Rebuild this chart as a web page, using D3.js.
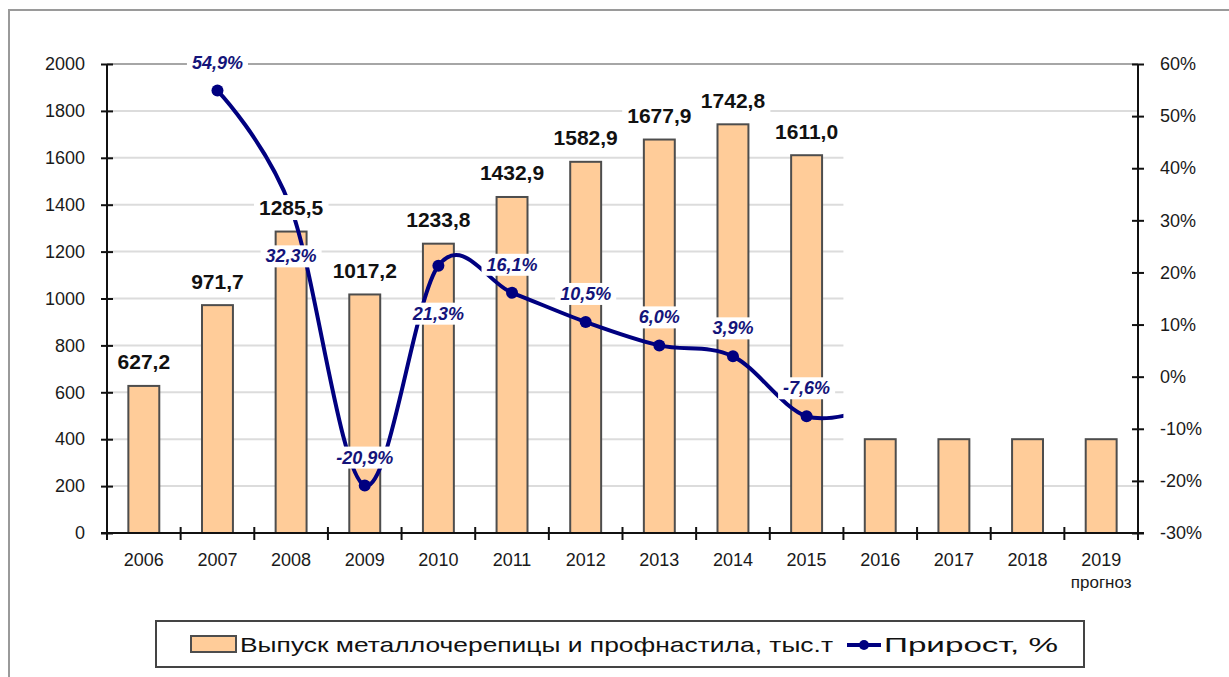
<!DOCTYPE html>
<html>

<head>
    <meta charset="utf-8" />
    <title>Выпуск металлочерепицы и профнастила</title>
    <script src="https://d3js.org/d3.v7.min.js"></script>
    <style>
        body {
            margin: 0;
            background: #fff;
        }

        svg text {
            font-family: "Liberation Sans", Arial, sans-serif;
        }
    </style>
</head>

<body>
    <div id="chart"></div>

    <script>
        // categories
        const years = ["2006", "2007", "2008", "2009", "2010", "2011", "2012",
            "2013", "2014", "2015", "2016", "2017", "2018", "2019"];

        // output, thousand tonnes (2016-2019 drawn as placeholders without labels)
        const output = [627.2, 971.7, 1285.5, 1017.2, 1233.8, 1432.9, 1582.9,
            1677.9, 1742.8, 1611.0, 400, 400, 400, 400];
        const outputLabelled = [true, true, true, true, true, true, true,
            true, true, true, false, false, false, false];

        // growth, % (2016 value is hidden, only the cut tail of the curve shows)
        const growthYears = ["2007", "2008", "2009", "2010", "2011", "2012",
            "2013", "2014", "2015", "2016"];
        const growth = [54.9, 32.3, -20.9, 21.3, 16.1, 10.5, 6.0, 3.9, -7.6, -5.5];
        const growthShown = 9; // points with dot and label

        // tick labels
        const leftTicks = [0, 200, 400, 600, 800, 1000, 1200, 1400, 1600, 1800, 2000];
        const rightTicks = [-30, -20, -10, 0, 10, 20, 30, 40, 50, 60];

        const W = 1229, H = 677;
        const plotL = 107, plotR = 1138, plotT = 64, plotB = 533;

        const svg = d3.select("#chart").append("svg")
            .attr("width", W)
            .attr("height", H);

        // outer frame (only top and left edges visible)
        svg.append("path")
            .attr("d", `M9,${H} V10 H${W}`)
            .attr("fill", "none")
            .attr("stroke", "#9a9a9a")
            .attr("stroke-width", 2);

        const x = d3.scaleBand()
            .domain(years)
            .range([plotL, plotR])
            .paddingInner(0.58)
            .paddingOuter(0.29);
        const yL = d3.scaleLinear().domain([0, 2000]).range([plotB, plotT]);
        const yR = d3.scaleLinear().domain([-30, 60]).range([plotB, plotT]);
        const cx = d => x(d) + x.bandwidth() / 2;

        // boundary between the real data and the forecast part
        const cutX = plotL + x.step() * years.indexOf("2016");

        // gridlines: the middle ones stop where the forecast starts
        svg.append("g").selectAll("line")
            .data(leftTicks.filter(v => v > 0))
            .enter()
            .append("line")
            .attr("x1", plotL)
            .attr("x2", v => (v >= 400 && v <= 1600) ? cutX : plotR)
            .attr("y1", v => yL(v))
            .attr("y2", v => yL(v))
            .attr("stroke", v => v === 2000 ? "#a6a6a6" : "#dcdcdc")
            .attr("stroke-width", 2);

        // bars
        svg.append("g").selectAll("rect")
            .data(years)
            .enter()
            .append("rect")
            .attr("x", d => x(d))
            .attr("y", (d, i) => yL(output[i]))
            .attr("width", x.bandwidth())
            .attr("height", (d, i) => plotB - yL(output[i]))
            .attr("fill", "#ffcc99")
            .attr("stroke", "#4d4d4d")
            .attr("stroke-width", 2);

        // axes
        const axisColor = "#111";
        const gLeft = svg.append("g")
            .attr("transform", `translate(${plotL},0)`)
            .call(d3.axisLeft(yL).tickValues(leftTicks).tickSize(6).tickPadding(16)
                .tickFormat(d3.format("d")));
        gLeft.selectAll(".tick line").attr("x1", 6).attr("stroke-width", 2);
        gLeft.select(".domain").attr("d", `M0,${plotT}V${plotB}`).attr("stroke-width", 2);

        const gRight = svg.append("g")
            .attr("transform", `translate(${plotR},0)`)
            .call(d3.axisRight(yR).tickValues(rightTicks).tickSize(6).tickPadding(16)
                .tickFormat(v => v + "%"));
        gRight.selectAll(".tick line").attr("x1", -6).attr("stroke-width", 2);
        gRight.select(".domain").attr("d", `M0,${plotT}V${plotB}`).attr("stroke-width", 2);

        [gLeft, gRight].forEach(g => {
            g.selectAll("path, line").attr("stroke", axisColor);
            g.selectAll("text")
                .attr("font-size", 18)
                .attr("fill", "#1a1a1a")
                .style("font-family", "'Liberation Sans', Arial, sans-serif");
        });

        // category axis
        const gBottom = svg.append("g");
        gBottom.append("line")
            .attr("x1", plotL - 6).attr("x2", plotR + 6)
            .attr("y1", plotB).attr("y2", plotB)
            .attr("stroke", axisColor).attr("stroke-width", 2);
        gBottom.selectAll(".ctick")
            .data(d3.range(years.length + 1))
            .enter()
            .append("line")
            .attr("x1", i => plotL + i * x.step())
            .attr("x2", i => plotL + i * x.step())
            .attr("y1", plotB - 6)
            .attr("y2", plotB + 7)
            .attr("stroke", axisColor)
            .attr("stroke-width", 2);
        gBottom.selectAll(".clabel")
            .data(years)
            .enter()
            .append("text")
            .attr("x", d => cx(d))
            .attr("y", plotB + 33)
            .attr("text-anchor", "middle")
            .attr("font-size", 18)
            .attr("fill", "#1a1a1a")
            .text(d => d);
        gBottom.append("text")
            .attr("x", cx("2019"))
            .attr("y", plotB + 55)
            .attr("text-anchor", "middle")
            .attr("font-size", 17)
            .attr("fill", "#1a1a1a")
            .text("прогноз");

        // growth line, clipped at the start of the forecast
        svg.append("clipPath").attr("id", "cut")
            .append("rect")
            .attr("x", 0).attr("y", 0)
            .attr("width", cutX).attr("height", H);

        const lineColor = "#000080";
        const line = d3.line()
            .x((d, i) => cx(growthYears[i]))
            .y(d => yR(d))
            .curve(d3.curveCardinal.tension(0));

        svg.append("path")
            .datum(growth)
            .attr("d", line)
            .attr("fill", "none")
            .attr("stroke", lineColor)
            .attr("stroke-width", 4)
            .attr("clip-path", "url(#cut)");

        svg.append("g").selectAll("circle")
            .data(growth.slice(0, growthShown))
            .enter()
            .append("circle")
            .attr("cx", (d, i) => cx(growthYears[i]))
            .attr("cy", d => yR(d))
            .attr("r", 6)
            .attr("fill", lineColor);

        // decimal comma and a plain hyphen for negatives
        const fmt = v => d3.format(".1f")(v).replace(".", ",").replace("\u2212", "-");

        // label with a white box behind it
        function boxedLabel(parent, px, py, txt, opts) {
            const g = parent.append("g");
            const t = g.append("text")
                .attr("x", px)
                .attr("y", py)
                .attr("text-anchor", "middle")
                .attr("dominant-baseline", "central")
                .attr("font-size", opts.size)
                .attr("font-weight", "bold")
                .attr("font-style", opts.italic ? "italic" : "normal")
                .attr("fill", opts.color)
                .text(txt);
            const b = t.node().getBBox();
            g.insert("rect", "text")
                .attr("x", b.x - 5)
                .attr("y", b.y - 1)
                .attr("width", b.width + 10)
                .attr("height", b.height + 2)
                .attr("fill", "#fff");
        }

        // value labels above the bars
        const labels = svg.append("g");
        years.forEach((d, i) => {
            if (!outputLabelled[i]) return;
            boxedLabel(labels, cx(d), yL(output[i]) - 24, fmt(output[i]),
                { size: 21, color: "#111" });
        });

        // growth labels: most above the point, two below it
        const below = ["2008", "2010"];
        growth.slice(0, growthShown).forEach((v, i) => {
            const yr = growthYears[i];
            const py = below.includes(yr) ? yR(v) + 48 : yR(v) - 28;
            boxedLabel(labels, cx(yr), py, fmt(v) + "%",
                { size: 18, color: "#14147a", italic: true });
        });

        // legend
        const lg = svg.append("g");
        lg.append("rect")
            .attr("x", 156).attr("y", 621)
            .attr("width", 928).attr("height", 46)
            .attr("fill", "#fff")
            .attr("stroke", "#444")
            .attr("stroke-width", 2);
        lg.append("rect")
            .attr("x", 191).attr("y", 636)
            .attr("width", 45).attr("height", 16)
            .attr("fill", "#ffcc99")
            .attr("stroke", "#4d4d4d")
            .attr("stroke-width", 2);
        lg.append("text")
            .attr("x", 240).attr("y", 652)
            .attr("font-size", 21)
            .attr("fill", "#111")
            .attr("textLength", 593)
            .attr("lengthAdjust", "spacingAndGlyphs")
            .text("Выпуск металлочерепицы и профнастила, тыс.т");
        lg.append("line")
            .attr("x1", 847).attr("x2", 881)
            .attr("y1", 645).attr("y2", 645)
            .attr("stroke", lineColor).attr("stroke-width", 4);
        lg.append("circle")
            .attr("cx", 864).attr("cy", 645).attr("r", 5)
            .attr("fill", lineColor);
        lg.append("text")
            .attr("x", 884).attr("y", 652)
            .attr("font-size", 21)
            .attr("fill", "#111")
            .attr("textLength", 174)
            .attr("lengthAdjust", "spacingAndGlyphs")
            .text("Прирост, %");
    </script>
</body>

</html>
